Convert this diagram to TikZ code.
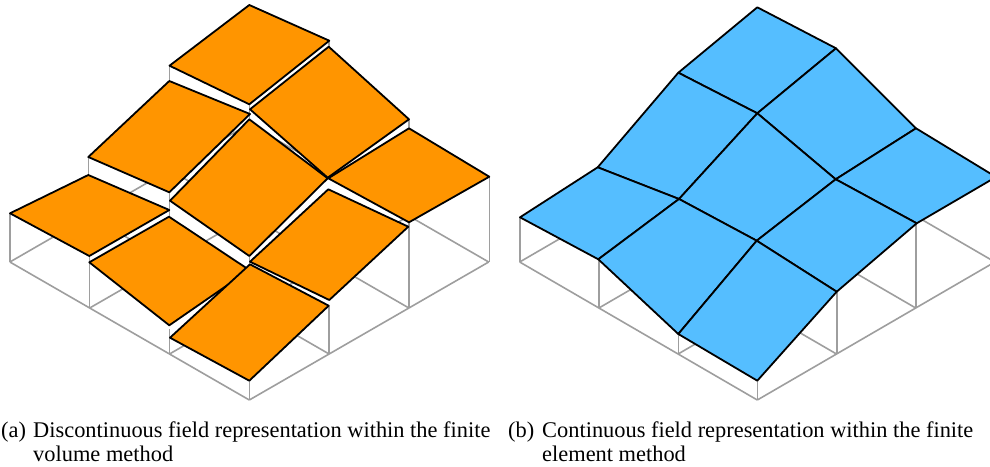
\documentclass[tikz,border=0pt]{standalone}
\usepackage{fontspec}
\setmainfont{Liberation Serif}
\definecolor{fvorange}{RGB}{255,149,0}
\definecolor{feblue}{RGB}{85,190,255}
\definecolor{framegray}{RGB}{158,158,158}
\tikzset{
	frameline/.style={draw=framegray,line width=1.6pt},
	fvface/.style={draw=black,line width=1.8pt,line join=round,fill=fvorange},
	feface/.style={draw=black,line width=1.8pt,line join=round,fill=feblue},
	captext/.style={anchor=base west,inner sep=0pt,font=\fontsize{22.4}{24}\selectfont}
}
% floor of the box: origin x, step x
\newcommand\floorgrid[2]{%
	\foreach \k in {0,1,2,3} {
		\draw[frameline] ({#1+\k*#2},{400-\k*46}) -- ({#1+(\k-3)*#2},{400-(\k+3)*46});
		\draw[frameline] ({#1-\k*#2},{400-\k*46}) -- ({#1+(3-\k)*#2},{400-(3+\k)*46});
	}
}
\newcommand\fvpatch[4]{%
	\draw[fvface] (#1) -- (#2) -- (#3) -- (#4) -- cycle;
}

\begin{document}
\begin{tikzpicture}[x=1pt,y=-1pt]
	\useasboundingbox (0,0) rectangle (990,466);
	\clip (0,0) rectangle (990,466);

	%% finite volume side
	\floorgrid{249.3}{79.8}
	\foreach \px/\ptop/\pbot in {10/213/262,89.5/256/308,169.5/329.3/354,249.3/381/400,329/306/354,409/222/308,489.3/177/262,
		88.3/157/216,169.5/65/170,249.3/5/124,329/41/170,409/119/216,
		169.5/192/262,249.3/104/216,249.3/256/308} {
		\draw[frameline] (\px,\ptop) -- (\px,\pbot);
	}

	% back to front
	\fvpatch{249.3,5}{329.3,40.7}{249.3,104.3}{169.5,65.7}
	\fvpatch{169.3,81}{250,114}{169.3,192.3}{88.3,157}
	\fvpatch{328.7,46.7}{409,119.3}{327.7,177.7}{250,109.3}
	\fvpatch{88.3,175}{169.3,210}{89.3,256}{10,213.3}
	\fvpatch{249.3,119.3}{327.7,178.3}{249.3,256}{170,200.7}
	\fvpatch{409,128.3}{489.3,176.7}{409,222.3}{328.3,178.3}
	\fvpatch{169,216.7}{249.3,270}{169.3,325.3}{89.3,262.3}
	\fvpatch{328.3,189.3}{408.3,226.7}{329.3,300}{250,261.7}
	\fvpatch{250,264.3}{328.7,305.7}{249.3,380.7}{170,337.7}

	%% finite element side
	\floorgrid{757.3}{79.2}
	\foreach \px/\ptop/\pbot in {520/217/262,599/259/307.5,678.3/334/354,757.3/381/400,836.7/292/354,916/223/308} {
		\draw[frameline] (\px,\ptop) -- (\px,\pbot);
	}

	\coordinate (n00) at (520,217.3);
	\coordinate (n01) at (598.3,259.3);
	\coordinate (n02) at (678.3,334);
	\coordinate (n03) at (757.3,380.7);
	\coordinate (n10) at (597.7,167.3);
	\coordinate (n11) at (679,199);
	\coordinate (n12) at (756.7,240.7);
	\coordinate (n13) at (836.7,291.7);
	\coordinate (n20) at (678.3,72.7);
	\coordinate (n21) at (757.3,113.3);
	\coordinate (n22) at (835.7,179.3);
	\coordinate (n23) at (916.7,223.3);
	\coordinate (n30) at (757.3,7.3);
	\coordinate (n31) at (836,48.3);
	\coordinate (n32) at (916,128.3);
	\coordinate (n33) at (996,177);
	\foreach \i/\ii in {2/3,1/2,0/1} {
		\foreach \j/\jj in {0/1,1/2,2/3} {
			\draw[feface] (n\i\j) -- (n\ii\j) -- (n\ii\jj) -- (n\i\jj) -- cycle;
		}
	}

	%% captions
	\node[captext] (capa) at (1,437) {(a)};
	\node[captext] (capaone) at (33,437) {Discontinuous field representation within the finite};
	\node[captext] (capatwo) at (33,461) {volume method};
	\node[captext] (capb) at (508,437) {(b)};
	\node[captext] (capbone) at (542,437) {Continuous field representation within the finite};
	\node[captext] (capbtwo) at (542,461) {element method};
\end{tikzpicture}
\end{document}
